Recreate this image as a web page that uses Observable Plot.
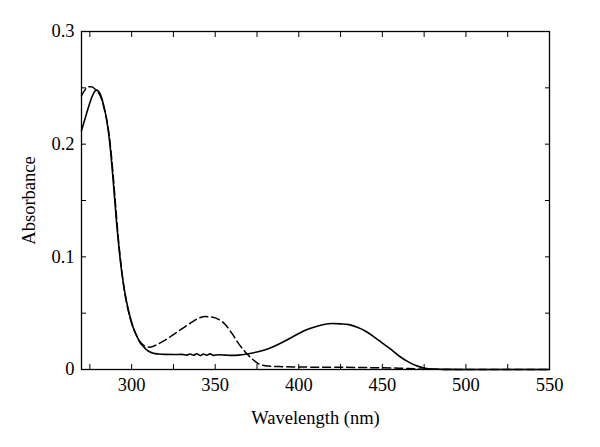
<!DOCTYPE html>
<html>
<head>
<meta charset="utf-8">
<script src="https://cdn.jsdelivr.net/npm/d3@7"></script>
<script src="https://cdn.jsdelivr.net/npm/@observablehq/plot@0.6"></script>
<style>
  html, body { margin: 0; padding: 0; background: #fff; }
</style>
</head>
<body>
<div id="chart"></div>
<script>
// Solid curve (wavelength nm, absorbance)
const solidWl  = [270,272,274,276,278,279,281,283,285,287,289,291,293,295,297,299,301,303,305,307,309,311,313,316,320,325,330,333,335,337,339,341,343,345,347,349,352,356,360,364,368,370,375,380,385,390,395,400,405,410,415,420,425,430,435,440,445,450,455,460,465,470,475,480,490,500,550];
const solidAbs = [0.212,0.222,0.232,0.241,0.247,0.248,0.245,0.236,0.222,0.200,0.167,0.130,0.100,0.077,0.060,0.047,0.037,0.030,0.024,0.0205,0.0175,0.0156,0.0145,0.0138,0.0134,0.0133,0.0134,0.0128,0.0138,0.0126,0.0140,0.0124,0.0137,0.0127,0.0139,0.0125,0.0131,0.0128,0.0125,0.0128,0.0135,0.014,0.0155,0.0175,0.0205,0.024,0.028,0.032,0.0355,0.038,0.040,0.0408,0.0405,0.0398,0.0375,0.034,0.029,0.0235,0.018,0.012,0.0072,0.0035,0.0013,0.0004,0.0001,0,0];

// Dashed curve
const dashWl  = [270,272,274,276,278,280,282,284,286,288,290,292,294,296,298,300,302,304,306,308,311,315,320,325,330,335,340,344,348,352,356,360,364,368,372,376,380,390,400,420,440,460,470,480,500,550];
const dashAbs = [0.243,0.248,0.251,0.251,0.249,0.246,0.240,0.229,0.214,0.188,0.153,0.117,0.088,0.067,0.052,0.041,0.033,0.027,0.023,0.0208,0.0198,0.022,0.026,0.031,0.036,0.041,0.0455,0.047,0.0465,0.0445,0.040,0.032,0.023,0.0155,0.0095,0.005,0.0033,0.0025,0.0022,0.002,0.0017,0.0012,0.0006,0.0002,0,0];

const xTicks = [275,300,325,350,375,400,425,450,475,500,525,550];
const xLabels = [300,350,400,450,500,550];
const yTicks = [0,0.05,0.1,0.15,0.2,0.25,0.3];
const yLabels = [0,0.1,0.2,0.3];

const solid = solidWl.map((w, i) => ({w, a: solidAbs[i]}));
const dashed = dashWl.map((w, i) => ({w, a: dashAbs[i]}));

const xFmt = d => xLabels.includes(d) ? String(d) : "";
const yFmt = d => yLabels.some(v => Math.abs(v - d) < 1e-9) ? (d === 0 ? "0" : d.toFixed(1)) : "";

const chart = Plot.plot({
  width: 600,
  height: 447,
  marginLeft: 81,
  marginRight: 51,
  marginTop: 31,
  marginBottom: 78,
  style: {fontFamily: "'Liberation Serif', serif", fontSize: "18.5px", color: "black", background: "white"},
  x: {domain: [270, 550]},
  y: {domain: [0, 0.3]},
  marks: [
    Plot.axisX(xTicks, {anchor: "bottom", tickSize: -5, tickPadding: 13, tickFormat: xFmt,
      label: "Wavelength (nm)", labelAnchor: "center", labelOffset: 54, labelArrow: "none"}),
    Plot.axisX(xTicks, {anchor: "top", tickSize: -5, tickFormat: () => "", label: null}),
    Plot.axisY(yTicks, {anchor: "left", tickSize: -5, tickPadding: 12, tickFormat: yFmt,
      label: "Absorbance", labelAnchor: "center", labelOffset: 60, labelArrow: "none"}),
    Plot.axisY(yTicks, {anchor: "right", tickSize: -5, tickFormat: () => "", label: null}),
    Plot.line(dashed, {x: "w", y: "a", stroke: "black", strokeWidth: 1.5, strokeDasharray: "8,4", curve: "monotone-x"}),
    Plot.line(solid, {x: "w", y: "a", stroke: "black", strokeWidth: 1.6, curve: "monotone-x"}),
    Plot.frame({stroke: "black", strokeWidth: 1.3})
  ]
});
document.getElementById("chart").appendChild(chart);
</script>
</body>
</html>
